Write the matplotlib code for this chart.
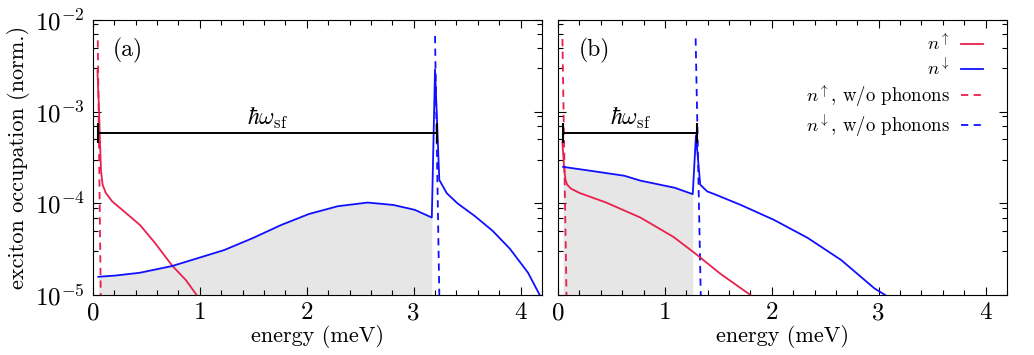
import matplotlib
matplotlib.use("Agg")
import matplotlib.pyplot as plt
import matplotlib.ticker as mticker
import numpy as np

plt.rcParams["font.family"] = ["cmr10", "DejaVu Serif"]
plt.rcParams["mathtext.fontset"] = "cm"
plt.rcParams["axes.unicode_minus"] = False

RED = "#e8204e"
BLUE = "#1010ff"
SHADE = "#e6e6e6"

# ---- panel (a) ----
a_up_E = [0.042, 0.055, 0.065, 0.075, 0.09, 0.12, 0.18, 0.30, 0.44, 0.58, 0.74, 0.87, 0.97, 1.00]
a_up_n = [2.8e-3, 1.2e-3, 5.0e-4, 2.3e-4, 1.6e-4, 1.3e-4, 1.05e-4, 8.0e-5, 5.8e-5, 3.7e-5, 2.1e-5, 1.45e-5, 1.0e-5, 9.0e-6]
a_dn_E = [0.05, 0.21, 0.44, 0.74, 0.97, 1.23, 1.50, 1.76, 2.02, 2.29, 2.57, 2.81, 3.01, 3.17,
          3.20, 3.24, 3.31, 3.41, 3.57, 3.74, 3.90, 4.07, 4.17, 4.20]
a_dn_n = [1.58e-5, 1.63e-5, 1.75e-5, 2.07e-5, 2.5e-5, 3.1e-5, 4.2e-5, 5.8e-5, 7.65e-5, 9.3e-5, 1.02e-4, 9.6e-5, 8.5e-5, 7.0e-5,
          2.9e-3, 1.8e-4, 1.29e-4, 1.0e-4, 7.3e-5, 5.0e-5, 3.2e-5, 1.75e-5, 1.05e-5, 9.0e-6]
a_up0_E = [0.045, 0.073]
a_up0_n = [6.0e-3, 1.0e-5]
a_dn0_E = [3.20, 3.24]
a_dn0_n = [6.7e-3, 1.0e-5]
a_bar = (0.047, 3.22, 5.9e-4)
a_fill_end = 3.18

# ---- panel (b) ----
b_up_E = [0.041, 0.05, 0.06, 0.07, 0.085, 0.12, 0.20, 0.45, 0.77, 1.08, 1.29, 1.52, 1.80, 1.83]
b_up_n = [4.6e-4, 3.2e-4, 2.2e-4, 1.8e-4, 1.6e-4, 1.45e-4, 1.3e-4, 1.02e-4, 7.0e-5, 4.3e-5, 2.8e-5, 1.7e-5, 1.0e-5, 9.5e-6]
b_dn_E = [0.047, 0.30, 0.62, 0.77, 1.09, 1.26, 1.29, 1.33, 1.395, 1.47, 1.71, 2.02, 2.335, 2.65, 2.96, 3.06, 3.09]
b_dn_n = [2.5e-4, 2.27e-4, 2.0e-4, 1.77e-4, 1.48e-4, 1.26e-4, 5.5e-4, 1.6e-4, 1.35e-4, 1.25e-4, 9.6e-5, 6.6e-5, 4.2e-5, 2.4e-5,
          1.18e-5, 1.0e-5, 9.5e-6]
b_up0_E = [0.041, 0.079]
b_up0_n = [6.2e-3, 1.0e-5]
b_dn0_E = [1.287, 1.335]
b_dn0_n = [6.3e-3, 1.0e-5]
b_bar = (0.047, 1.30, 5.9e-4)
b_fill_end = 1.26

panels = [
    ("(a)", a_up_E, a_up_n, a_dn_E, a_dn_n, a_up0_E, a_up0_n, a_dn0_E, a_dn0_n, a_bar, a_fill_end),
    ("(b)", b_up_E, b_up_n, b_dn_E, b_dn_n, b_up0_E, b_up0_n, b_dn0_E, b_dn0_n, b_bar, b_fill_end),
]

fig = plt.figure(figsize=(10.34, 3.55), dpi=100)
axes = [fig.add_axes([0.0899, 0.169, 0.4342, 0.7746]),
        fig.add_axes([0.5397, 0.169, 0.4342, 0.7746])]


def log_fmt(v, pos):
    return r"$10^{%d}$" % int(round(np.log10(v)))


for ax, (tag, uE, un, dE, dn, u0E, u0n, d0E, d0n, bar, fend) in zip(axes, panels):
    dE_arr = np.array(dE)
    dn_arr = np.array(dn)
    m = dE_arr <= fend
    ax.fill_between(dE_arr[m], 1e-6, dn_arr[m], color=SHADE, lw=0, zorder=1)

    ax.plot(uE, un, color=RED, lw=1.3, zorder=3, label=r"$n^{\uparrow}$")
    ax.plot(dE, dn, color=BLUE, lw=1.3, zorder=3, label=r"$n^{\downarrow}$")
    ax.plot(u0E, u0n, color=RED, lw=1.3, ls=(0, (4, 3)), zorder=2,
            label=r"$n^{\uparrow}$, w/o phonons")
    ax.plot(d0E, d0n, color=BLUE, lw=1.3, ls=(0, (4, 3)), zorder=2,
            label=r"$n^{\downarrow}$, w/o phonons")

    e0, e1, yb = bar
    ax.plot([e0, e1], [yb, yb], color="k", lw=1.4, marker="|", ms=15, mew=1.5, zorder=4)
    ax.annotate(r"$\hbar\omega_{\rm sf}$", xy=((e0 + e1) / 2, yb), xytext=(0, 1),
                textcoords="offset points", ha="center", va="bottom", fontsize=17)

    ax.text(0.045, 0.89, tag, transform=ax.transAxes, fontsize=17, va="center", ha="left")

    ax.set_yscale("log")
    ax.set_xlim(0, 4.2)
    ax.set_ylim(1e-5, 1e-2)
    ax.xaxis.set_major_locator(mticker.MultipleLocator(1))
    ax.xaxis.set_minor_locator(mticker.MultipleLocator(0.2))
    ax.yaxis.set_major_formatter(mticker.FuncFormatter(log_fmt))
    ax.yaxis.set_minor_locator(mticker.LogLocator(base=10, subs=[3, 5, 7, 9]))
    ax.yaxis.set_minor_formatter(mticker.NullFormatter())
    ax.tick_params(which="both", direction="in", top=True, right=True, width=0.8)
    ax.tick_params(which="major", length=6, labelsize=18)
    ax.tick_params(axis="x", which="major", pad=5)
    ax.tick_params(axis="y", which="major", pad=6)
    ax.tick_params(which="minor", length=3.5)
    ax.set_xlabel("energy (meV)", fontsize=16, labelpad=1)

axes[0].set_ylabel("exciton occupation (norm.)", fontsize=16, labelpad=3)
axes[1].tick_params(axis="y", labelleft=False)

axes[1].legend(loc="upper right", frameon=False, markerfirst=False, fontsize=13.5,
               handlelength=1.15, handletextpad=0.6, labelspacing=0.2,
               borderaxespad=0.3, bbox_to_anchor=(0.975, 1.0))

fig.savefig("out.png", dpi=100)
